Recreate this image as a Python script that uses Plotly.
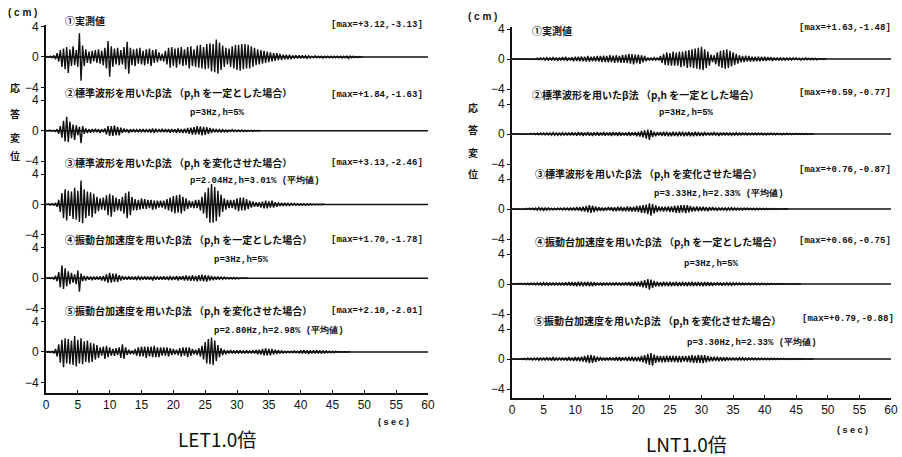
import numpy as np
import plotly.graph_objects as go

W, H = 902, 457
DT = 0.25  # sampling step of the digitised peak sequences (s)
X_TICKS = list(range(0, 61, 5))
T_END = 60

# ---------------- LET1.0倍 : response displacement (cm), peaks every 0.25 s ----------------
let_1 = [0,0.05,-0.05,0.1,-0.1,0.2,-0.3,0.5,
 -0.6,0.9,-1.3,1.1,-1.6,1.3,-2.1,1.0,
 -1.2,1.4,-1.1,0.9,-1.3,3.12,-3.13,1.5,
 -1.2,1.0,-0.8,0.7,-0.9,0.8,-0.6,0.9,
 -0.8,1.0,-0.9,0.8,-1.1,1.2,-1.5,2.1,
 -2.6,1.4,-1.3,1.1,-1.0,1.2,-1.1,0.9,
 -1.0,1.3,-1.6,2.0,-2.2,1.2,-1.1,1.0,
 -1.2,1.1,-0.9,1.2,-1.0,0.8,-1.1,1.0,
 -0.9,1.1,-1.2,0.9,-0.8,1.0,-0.7,0.6,
 -0.5,0.4,-0.6,0.8,-1.0,1.2,-1.4,1.3,
 -1.2,1.1,-1.4,1.2,-1.0,1.3,-1.2,1.0,
 -1.1,1.3,-1.5,1.4,-1.2,1.0,-1.3,1.5,
 -1.4,1.6,-1.5,1.3,-1.6,1.7,-1.5,1.8,
 -1.9,1.7,-2.0,2.3,-2.2,1.9,-1.7,1.5,
 -1.3,1.2,-1.0,1.1,-1.3,1.4,-1.5,1.6,
 -1.7,1.6,-1.8,1.7,-1.6,1.7,-1.5,1.6,
 -1.5,1.4,-1.3,1.2,-1.1,1.0,-1.0,0.9,
 -0.9,0.8,-0.8,0.7,-0.7,0.6,-0.6,0.5,
 -0.5,0.5,-0.4,0.4,-0.4,0.3,-0.3,0.3,
 -0.3,0.3,-0.3,0.2,-0.2,0.2,-0.2,0.2,
 -0.2,0.2,-0.15,0.15,-0.2,0.15,-0.15,0.1,
 -0.1,0.15,-0.1,0.1,-0.1,0.1,-0.15,0.1,
 -0.1,0.1,-0.1,0.1,-0.1,0.1,-0.1,0.1,
 -0.1,0.1,-0.15,0.1,-0.1,0.1,-0.2,0.1,
 -0.1,0.1,-0.1,0.05,-0.1,0.05,-0.05,0.05]

let_2 = [0,0,0,0.05,-0.05,0.05,-0.1,0.2,
 -0.4,0.6,-0.9,1.3,-1.4,1.84,-1.5,1.2,
 -1.0,0.8,-1.2,0.7,-0.6,0.5,-1.63,0.6,
 -0.4,0.3,-0.3,0.2,-0.25,0.2,-0.2,0.25,
 -0.2,0.2,-0.3,0.2,-0.2,0.3,-0.5,0.6,
 -0.7,0.6,-0.7,0.7,-0.6,0.5,-0.6,0.4,
 -0.3,0.3,-0.2,0.2,-0.3,0.2,-0.2,0.2,
 -0.2,0.15,-0.2,0.2,-0.15,0.2,-0.2,0.15,
 -0.2,0.2,-0.25,0.3,-0.3,0.25,-0.2,0.2,
 -0.2,0.25,-0.2,0.2,-0.2,0.2,-0.25,0.2,
 -0.2,0.2,-0.3,0.3,-0.25,0.2,-0.3,0.25,
 -0.3,0.35,-0.4,0.4,-0.5,0.45,-0.5,0.6,
 -0.5,0.55,-0.6,0.5,-0.55,0.45,-0.4,0.35,
 -0.3,0.25,-0.2,0.2,-0.2,0.15,-0.2,0.15,
 -0.15,0.1,-0.15,0.1,-0.1,0.15,-0.1,0.1,
 -0.1,0.1,-0.1,0.1,-0.1,0.05,-0.1,0.05,
 -0.05,0.05,-0.1,0.05,-0.05,0.05,-0.05,0.05]

let_3 = [0,0,0.05,-0.05,0.1,-0.1,0.2,-0.3,
 0.6,-1.0,1.5,-1.8,2.0,-2.1,1.8,-1.5,
 1.7,-1.9,2.2,-2.0,1.8,-2.3,3.13,-2.46,
 2.0,-1.8,1.7,-1.5,1.6,-1.7,1.4,-1.2,
 1.0,-0.9,0.8,-0.7,0.9,-0.8,1.2,-1.4,
 1.4,-1.6,1.2,-1.0,0.9,-0.8,0.7,-0.9,
 1.0,-1.2,1.5,-1.8,1.7,-1.4,1.0,-0.8,
 0.7,-0.8,0.6,-0.7,0.8,-0.6,0.7,-0.6,
 0.6,-0.5,0.6,-0.7,0.5,-0.6,0.5,-0.4,
 0.5,-0.4,0.5,-0.6,0.7,-0.8,0.9,-1.0,
 1.1,-1.2,1.2,-1.1,1.3,-1.2,1.0,-0.9,
 0.8,-0.6,0.5,-0.4,0.4,-0.5,0.6,-0.5,
 0.6,-0.8,1.0,-1.2,1.6,-1.8,2.2,-2.4,
 2.7,-2.4,2.3,-2.2,1.8,-1.6,1.3,-1.0,
 0.8,-0.7,0.6,-0.5,0.6,-0.5,0.6,-0.7,
 0.8,-0.9,0.9,-0.8,0.9,-0.8,0.7,-0.6,
 0.5,-0.4,0.4,-0.3,0.3,-0.3,0.3,-0.4,
 0.4,-0.5,0.5,-0.5,0.4,-0.4,0.5,-0.4,
 0.3,-0.3,0.25,-0.2,0.2,-0.2,0.2,-0.15,
 0.15,-0.15,0.15,-0.1,0.15,-0.1,0.1,-0.1,
 0.1,-0.1,0.1,-0.1,0.1,-0.1,0.1,-0.05,
 0.05,-0.05,0.05,-0.05,0.05,-0.05,0.05,0]

let_4 = [0,0,0.05,-0.05,0.1,-0.15,0.3,-0.4,
 0.8,-1.2,1.70,-1.4,1.3,-1.1,0.9,-0.8,
 0.7,-0.6,0.5,-0.8,1.0,-1.78,0.6,-0.4,
 0.3,-0.3,0.25,-0.2,0.2,-0.25,0.2,-0.2,
 0.2,-0.2,0.25,-0.3,0.3,-0.4,0.5,-0.6,
 0.7,-0.6,0.6,-0.5,0.6,-0.5,0.4,-0.3,
 0.3,-0.2,0.2,-0.2,0.25,-0.2,0.2,-0.2,
 0.2,-0.25,0.3,-0.25,0.2,-0.2,0.25,-0.2,
 0.2,-0.2,0.2,-0.3,0.3,-0.2,0.2,-0.2,
 0.2,-0.2,0.25,-0.2,0.2,-0.25,0.3,-0.25,
 0.2,-0.2,0.3,-0.3,0.25,-0.2,0.3,-0.3,
 0.35,-0.3,0.3,-0.35,0.4,-0.35,0.3,-0.4,
 0.4,-0.35,0.45,-0.4,0.4,-0.45,0.35,-0.3,
 0.3,-0.25,0.2,-0.2,0.2,-0.15,0.15,-0.15,
 0.15,-0.1,0.1,-0.1,0.1,-0.1,0.1,-0.1,
 0.1,-0.1,0.05,-0.05,0.05,-0.05,0.05,-0.05]

let_5 = [0,0,0.05,-0.05,0.1,-0.2,0.4,-0.6,
 1.0,-1.4,1.6,-2.01,1.8,-1.5,1.7,-1.6,
 1.5,-1.7,2.10,-1.9,1.6,-1.5,1.8,-1.6,
 1.4,-1.3,1.5,-1.4,1.2,-1.3,1.1,-1.0,
 0.9,-0.8,0.6,-0.5,0.7,-0.9,0.8,-0.7,
 0.6,-0.5,0.4,-0.5,0.5,-0.4,0.6,-0.8,
 1.0,-0.9,0.6,-0.4,0.3,-0.3,0.2,-0.3,
 0.4,-0.5,0.6,-0.6,0.7,-0.6,0.7,-0.8,
 0.7,-0.6,0.7,-0.7,0.8,-0.7,0.6,-0.7,
 0.6,-0.5,0.6,-0.5,0.6,-0.6,0.5,-0.4,
 0.4,-0.3,0.3,-0.4,0.5,-0.6,0.6,-0.5,
 0.6,-0.7,0.6,-0.5,0.4,-0.3,0.3,-0.4,
 0.5,-0.6,0.8,-1.0,1.3,-1.5,1.7,-1.6,
 1.9,-1.7,1.5,-1.2,0.9,-0.7,0.5,-0.4,
 0.3,-0.3,0.2,-0.2,0.25,-0.2,0.2,-0.2,
 0.2,-0.15,0.2,-0.2,0.15,-0.2,0.2,-0.15,
 0.15,-0.15,0.2,-0.2,0.25,-0.3,0.3,-0.35,
 0.4,-0.45,0.5,-0.45,0.4,-0.45,0.4,-0.35,
 0.3,-0.25,0.2,-0.2,0.15,-0.15,0.1,-0.1,
 0.1,-0.1,0.1,-0.1,0.15,-0.1,0.1,-0.15,
 0.2,-0.2,0.25,-0.2,0.2,-0.25,0.2,-0.2,
 0.2,-0.2,0.25,-0.2,0.2,-0.2,0.15,-0.15,
 0.15,-0.1,0.1,-0.1,0.1,-0.1,0.1,-0.05,
 0.05,-0.05,0.05,-0.05,0.05,-0.05,0.05,0]

# ---------------- LNT1.0倍 ----------------
lnt_1 = [0,0,0,0,0.02,-0.02,0.03,-0.03,
 0.03,-0.03,0.05,-0.05,0.05,-0.05,0.05,-0.05,
 0.1,-0.1,0.15,-0.1,0.15,-0.15,0.2,-0.15,
 0.2,-0.2,0.25,-0.2,0.2,-0.25,0.2,-0.2,
 0.25,-0.2,0.3,-0.25,0.2,-0.2,0.25,-0.3,
 0.3,-0.25,0.3,-0.3,0.35,-0.3,0.3,-0.35,
 0.4,-0.35,0.3,-0.3,0.35,-0.3,0.4,-0.35,
 0.4,-0.4,0.45,-0.4,0.4,-0.45,0.5,-0.4,
 0.45,-0.5,0.5,-0.45,0.4,-0.5,0.55,-0.5,
 0.6,-0.55,0.7,-0.6,0.65,-0.7,0.6,-0.55,
 0.6,-0.65,0.5,-0.45,0.4,-0.3,0.2,-0.15,
 0.15,-0.15,0.2,-0.15,0.2,-0.2,0.4,-0.5,
 0.7,-0.8,0.9,-0.85,0.8,-0.9,1.0,-0.9,
 0.85,-0.9,1.0,-1.1,1.0,-0.95,1.1,-1.2,
 1.2,-1.1,1.3,-1.2,1.4,-1.3,1.5,-1.4,
 1.63,-1.48,1.3,-1.2,1.0,-0.9,0.6,-0.4,
 0.5,-0.7,0.9,-1.0,1.1,-1.2,1.2,-1.3,
 1.3,-1.2,1.1,-1.0,0.9,-0.8,0.7,-0.6,
 0.5,-0.45,0.4,-0.4,0.45,-0.35,0.4,-0.35,
 0.3,-0.35,0.3,-0.3,0.35,-0.3,0.3,-0.25,
 0.3,-0.25,0.25,-0.2,0.25,-0.25,0.2,-0.2,
 0.2,-0.2,0.15,-0.2,0.2,-0.15,0.15,-0.15,
 0.15,-0.15,0.15,-0.1,0.15,-0.1,0.1,-0.15,
 0.1,-0.1,0.15,-0.1,0.1,-0.1,0.1,-0.1,
 0.1,-0.1,0.05,-0.05,0.05,-0.05,0.05,0]

lnt_2 = [0,0,0,0,0.02,-0.02,0.03,-0.03,
 0.05,-0.05,0.05,-0.05,0.08,-0.06,0.08,-0.08,
 0.1,-0.1,0.12,-0.1,0.12,-0.12,0.15,-0.12,
 0.15,-0.15,0.18,-0.15,0.15,-0.18,0.2,-0.15,
 0.18,-0.2,0.2,-0.18,0.2,-0.2,0.22,-0.2,
 0.2,-0.22,0.25,-0.2,0.22,-0.25,0.2,-0.2,
 0.25,-0.22,0.2,-0.25,0.22,-0.2,0.25,-0.22,
 0.2,-0.2,0.25,-0.22,0.2,-0.2,0.22,-0.25,
 0.25,-0.2,0.22,-0.25,0.25,-0.22,0.2,-0.2,
 0.2,-0.22,0.25,-0.25,0.22,-0.2,0.25,-0.3,
 0.3,-0.35,0.4,-0.45,0.5,-0.6,0.59,-0.77,
 0.5,-0.4,0.3,-0.3,0.25,-0.2,0.25,-0.25,
 0.3,-0.25,0.3,-0.3,0.25,-0.3,0.3,-0.25,
 0.25,-0.3,0.3,-0.25,0.3,-0.3,0.25,-0.25,
 0.3,-0.3,0.25,-0.3,0.3,-0.25,0.25,-0.25,
 0.2,-0.25,0.25,-0.2,0.2,-0.2,0.2,-0.2,
 0.25,-0.2,0.2,-0.25,0.2,-0.2,0.2,-0.18,
 0.18,-0.2,0.2,-0.18,0.15,-0.15,0.18,-0.15,
 0.15,-0.15,0.15,-0.12,0.15,-0.15,0.12,-0.12,
 0.12,-0.12,0.15,-0.12,0.12,-0.1,0.12,-0.12,
 0.1,-0.12,0.1,-0.1,0.12,-0.1,0.1,-0.1,
 0.1,-0.08,0.08,-0.1,0.08,-0.08,0.1,-0.08,
 0.08,-0.08,0.06,-0.06,0.08,-0.06,0.05,-0.05,
 0.05,-0.05,0.05,-0.05,0.04,-0.04,0.03,0]

lnt_3 = [0,0,0,0.02,-0.02,0.03,-0.03,0.05,
 -0.05,0.08,-0.06,0.1,-0.08,0.1,-0.1,0.12,
 -0.15,0.2,-0.15,0.2,-0.25,0.2,-0.15,0.15,
 -0.12,0.1,-0.12,0.1,-0.1,0.12,-0.1,0.12,
 -0.15,0.15,-0.12,0.15,-0.2,0.2,-0.15,0.2,
 -0.2,0.25,-0.2,0.25,-0.3,0.3,-0.35,0.4,
 -0.45,0.5,-0.5,0.45,-0.4,0.35,-0.3,0.25,
 -0.25,0.2,-0.25,0.2,-0.2,0.25,-0.2,0.25,
 -0.3,0.25,-0.3,0.3,-0.25,0.3,-0.3,0.25,
 -0.3,0.35,-0.3,0.3,-0.35,0.3,-0.35,0.4,
 -0.4,0.45,-0.5,0.5,-0.55,0.6,-0.7,0.76,
 -0.87,0.7,-0.6,0.5,-0.4,0.35,-0.3,0.3,
 -0.35,0.3,-0.3,0.35,-0.4,0.35,-0.4,0.45,
 -0.5,0.45,-0.5,0.5,-0.45,0.5,-0.55,0.5,
 -0.45,0.4,-0.35,0.3,-0.3,0.35,-0.3,0.3,
 -0.25,0.3,-0.25,0.25,-0.3,0.25,-0.2,0.25,
 -0.2,0.2,-0.25,0.2,-0.2,0.2,-0.2,0.15,
 -0.2,0.15,-0.15,0.2,-0.15,0.15,-0.15,0.12,
 -0.12,0.12,-0.15,0.12,-0.1,0.12,-0.1,0.1,
 -0.1,0.1,-0.12,0.1,-0.1,0.1,-0.08,0.08,
 -0.08,0.08,-0.06,0.06,-0.06,0.05,-0.05,0.05,
 -0.05,0.04,-0.04,0.04,-0.03,0.03,-0.02,0]

lnt_4 = [0,0,0.02,-0.02,0.04,-0.04,0.06,-0.05,
 0.08,-0.08,0.1,-0.1,0.12,-0.1,0.12,-0.12,
 0.15,-0.12,0.15,-0.15,0.18,-0.15,0.15,-0.18,
 0.2,-0.18,0.2,-0.2,0.18,-0.2,0.2,-0.18,
 0.2,-0.2,0.22,-0.2,0.25,-0.22,0.25,-0.25,
 0.25,-0.3,0.3,-0.25,0.3,-0.3,0.28,-0.25,
 0.3,-0.3,0.28,-0.3,0.25,-0.22,0.2,-0.2,
 0.2,-0.22,0.2,-0.2,0.18,-0.2,0.2,-0.18,
 0.2,-0.2,0.22,-0.2,0.2,-0.22,0.2,-0.2,
 0.22,-0.2,0.25,-0.25,0.22,-0.25,0.3,-0.3,
 0.3,-0.35,0.4,-0.45,0.5,-0.55,0.66,-0.75,
 0.6,-0.5,0.4,-0.35,0.3,-0.3,0.25,-0.3,
 0.3,-0.25,0.28,-0.3,0.3,-0.3,0.25,-0.25,
 0.3,-0.3,0.25,-0.28,0.3,-0.25,0.25,-0.3,
 0.28,-0.25,0.3,-0.3,0.25,-0.25,0.3,-0.28,
 0.25,-0.3,0.28,-0.25,0.25,-0.25,0.22,-0.25,
 0.2,-0.2,0.22,-0.2,0.2,-0.22,0.18,-0.2,
 0.18,-0.15,0.15,-0.18,0.15,-0.15,0.15,-0.12,
 0.15,-0.12,0.12,-0.12,0.12,-0.1,0.12,-0.12,
 0.1,-0.1,0.12,-0.1,0.1,-0.1,0.1,-0.08,
 0.08,-0.1,0.08,-0.08,0.08,-0.06,0.06,-0.06,
 0.06,-0.05,0.05,-0.05,0.05,-0.04,0.04,-0.04,
 0.03,-0.03,0.03,-0.03,0.02,-0.02,0.02,0]

lnt_5 = [0,0,0.02,-0.02,0.04,-0.05,0.06,-0.06,
 0.08,-0.1,0.12,-0.1,0.12,-0.15,0.15,-0.12,
 0.15,-0.18,0.2,-0.18,0.2,-0.2,0.22,-0.2,
 0.2,-0.22,0.25,-0.22,0.2,-0.2,0.18,-0.2,
 0.2,-0.18,0.2,-0.22,0.25,-0.22,0.2,-0.25,
 0.25,-0.25,0.28,-0.3,0.3,-0.35,0.4,-0.45,
 0.5,-0.55,0.55,-0.5,0.45,-0.4,0.3,-0.25,
 0.25,-0.22,0.2,-0.22,0.2,-0.2,0.22,-0.2,
 0.2,-0.22,0.25,-0.22,0.25,-0.25,0.22,-0.2,
 0.25,-0.25,0.3,-0.28,0.3,-0.3,0.28,-0.3,
 0.3,-0.35,0.4,-0.45,0.5,-0.6,0.7,-0.8,
 0.79,-0.88,0.6,-0.5,0.45,-0.4,0.4,-0.45,
 0.4,-0.45,0.45,-0.4,0.4,-0.4,0.45,-0.4,
 0.4,-0.45,0.4,-0.45,0.4,-0.35,0.4,-0.4,
 0.45,-0.45,0.5,-0.5,0.45,-0.5,0.55,-0.5,
 0.5,-0.55,0.5,-0.45,0.4,-0.35,0.3,-0.3,
 0.3,-0.25,0.3,-0.3,0.25,-0.25,0.22,-0.25,
 0.22,-0.2,0.2,-0.2,0.2,-0.18,0.2,-0.18,
 0.18,-0.15,0.18,-0.15,0.15,-0.15,0.15,-0.12,
 0.15,-0.12,0.12,-0.12,0.12,-0.1,0.12,-0.1,
 0.1,-0.1,0.1,-0.1,0.1,-0.08,0.1,-0.08,
 0.08,-0.08,0.08,-0.06,0.08,-0.06,0.06,-0.06,
 0.06,-0.06,0.06,-0.05,0.06,-0.05,0.05,-0.05,
 0.05,-0.04,0.04,-0.04,0.03,-0.03,0.02,0]

HEADERS = ["①実測値",
           "②標準波形を用いたβ法 （p,h を一定とした場合）",
           "③標準波形を用いたβ法 （p,h を変化させた場合）",
           "④振動台加速度を用いたβ法 （p,h を一定とした場合）",
           "⑤振動台加速度を用いたβ法 （p,h を変化させた場合）"]
LET_MAX = ["[max=+3.12,-3.13]", "[max=+1.84,-1.63]", "[max=+3.13,-2.46]",
           "[max=+1.70,-1.78]", "[max=+2.10,-2.01]"]
LET_PARAMS = [None, "p=3Hz,h=5%", "p=2.04Hz,h=3.01% (平均値)", "p=3Hz,h=5%",
              "p=2.80Hz,h=2.98% (平均値)"]
LNT_MAX = ["[max=+1.63,-1.48]", "[max=+0.59,-0.77]", "[max=+0.76,-0.87]",
           "[max=+0.66,-0.75]", "[max=+0.79,-0.88]"]
LNT_PARAMS = [None, "p=3Hz,h=5%", "p=3.33Hz,h=2.33% (平均値)", "p=3Hz,h=5%",
              "p=3.30Hz,h=2.33% (平均値)"]
Y_LABEL = "応答変位"
LET_TITLE = "LET1.0倍"
LNT_TITLE = "LNT1.0倍"

# ---------------- layout constants ----------------
LET_OFFSETS = [0, -9.7, -19.4, -29.1, -38.8]
LNT_OFFSETS = [0, -10, -20, -30, -40]
BLACK = "#111111"
CJK = "Noto Sans CJK JP"
MONO = "Liberation Mono"
SANS = "Liberation Sans"

fig = go.Figure()

def add_panel(series, offsets, xa, ya):
    for vals, off in zip(series, offsets):
        v = np.asarray(vals, dtype=float)
        t = np.arange(len(v)) * DT
        fig.add_trace(go.Scatter(x=[0, T_END], y=[off, off], mode="lines",
                                 line=dict(color=BLACK, width=1.5),
                                 xaxis=xa, yaxis=ya, showlegend=False, hoverinfo="skip"))
        fig.add_trace(go.Scatter(x=t, y=v + off, mode="lines",
                                 line=dict(color=BLACK, width=1.4),
                                 xaxis=xa, yaxis=ya, showlegend=False))

add_panel([let_1, let_2, let_3, let_4, let_5], LET_OFFSETS, "x", "y")
add_panel([lnt_1, lnt_2, lnt_3, lnt_4, lnt_5], LNT_OFFSETS, "x2", "y2")

def yticks(offsets):
    vals, text = [], []
    for off in offsets:
        vals += [off + 4, off, off - 4]
        text += ["4", "0", "−4"]
    return vals, text

lv, lt = yticks(LET_OFFSETS)
rv, rt = yticks(LNT_OFFSETS)

axis_common = dict(showgrid=False, zeroline=False, showline=True, linecolor=BLACK,
                   linewidth=1.6, tickcolor=BLACK, automargin=False,
                   ticklabeloverflow="allow",
                   tickfont=dict(family=SANS, size=12, color=BLACK))

def px_x(p):
    return p / W

def px_y(p):
    return 1 - p / H

fig.update_layout(
    width=W, height=H, autosize=False,
    margin=dict(l=0, r=0, t=0, b=0, pad=0),
    paper_bgcolor="white", plot_bgcolor="white",
    xaxis=dict(domain=[px_x(46), px_x(428)], range=[0, 60], tickvals=X_TICKS,
               ticks="inside", ticklen=3, anchor="y", **axis_common),
    yaxis=dict(domain=[px_y(393), px_y(25)], range=[-44.2, 4.2], tickvals=lv, ticktext=lt,
               ticks="outside", ticklen=3, anchor="x", **axis_common),
    xaxis2=dict(domain=[px_x(512), px_x(891)], range=[0, 60], tickvals=X_TICKS,
                ticks="inside", ticklen=3, anchor="y2", **axis_common),
    yaxis2=dict(domain=[px_y(398), px_y(27)], range=[-45.2, 4.27], tickvals=rv, ticktext=rt,
                ticks="outside", ticklen=3, anchor="x2", **axis_common),
)

anns = []

def ann(text, x, y, anchor="left", size=10, family=CJK, bold=True):
    anns.append(dict(text=f"<b>{text}</b>" if bold else text, x=px_x(x), y=px_y(y),
                     xref="paper", yref="paper", xanchor=anchor, yanchor="middle",
                     showarrow=False, font=dict(family=family, size=size, color=BLACK)))

# left panel texts
LET_HEAD_POS = [(63, 20), (63, 92), (63, 162), (63, 240), (63, 310)]
LET_MAX_POS = [(425, 25), (425, 95), (425, 163), (425, 240), (425, 311)]
LET_PAR_POS = [None, (188, 113), (188, 180), (212, 260), (212, 330)]
for i in range(5):
    ann(HEADERS[i], *LET_HEAD_POS[i])
    ann(LET_MAX[i], *LET_MAX_POS[i], anchor="right", size=9, family=MONO)
    if LET_PARAMS[i]:
        ann(LET_PARAMS[i], *LET_PAR_POS[i], size=9, family=MONO)

LNT_HEAD_POS = [(530, 30), (530, 95), (533, 173), (533, 241), (532, 320)]
LNT_MAX_POS = [(893, 28), (893, 93), (893, 170), (893, 241), (896, 319)]
LNT_PAR_POS = [None, (657, 113), (652, 193), (682, 264), (685, 342)]
for i in range(5):
    ann(HEADERS[i], *LNT_HEAD_POS[i])
    ann(LNT_MAX[i], *LNT_MAX_POS[i], anchor="right", size=9, family=MONO)
    if LNT_PARAMS[i]:
        ann(LNT_PARAMS[i], *LNT_PAR_POS[i], size=9, family=MONO)

# units / axis labels
ann("( c m )", 22, 12, anchor="center", size=10, family=SANS)
ann("( c m )", 482, 16, anchor="center", size=10, family=SANS)
for ch, yy in zip(Y_LABEL, [88, 113, 137, 156]):
    ann(ch, 15, yy, anchor="center", size=10)
for ch, yy in zip(Y_LABEL, [107, 130, 152, 173]):
    ann(ch, 473, yy, anchor="center", size=10)
ann("( s e c )", 393, 422, anchor="center", size=9, family=SANS)
ann("( s e c )", 852, 430, anchor="center", size=9, family=SANS)
ann(LET_TITLE, 217, 438, anchor="center", size=19, family=CJK, bold=False)
ann(LNT_TITLE, 686, 443, anchor="center", size=19, family=CJK, bold=False)

fig.update_layout(annotations=anns)
# remove the page's default 8 px body margin so the figure sits at the window origin
fig.write_html("out.html", config={"displayModeBar": False},
               post_script="document.body.style.margin='0';")
